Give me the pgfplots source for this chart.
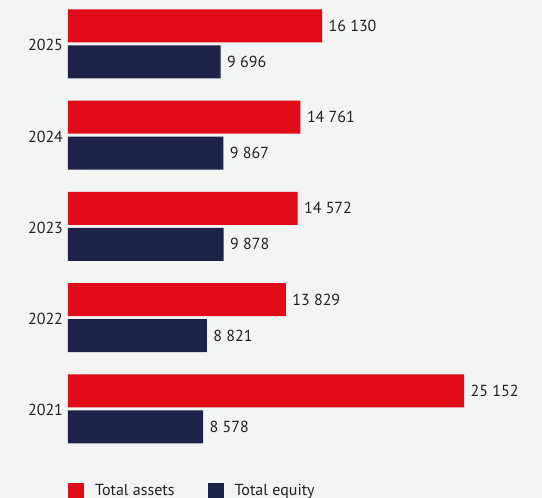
\documentclass[border=0pt]{standalone}
\usepackage{pgfplots}
\pgfplotsset{compat=1.18}
\usepackage{fontspec}
\setmainfont{PT Sans}
\definecolor{bg}{HTML}{F3F4F4}
\definecolor{cred}{HTML}{DF0B16}
\definecolor{cnavy}{HTML}{1E2248}
\definecolor{txt}{HTML}{222222}
\begin{document}
\begin{tikzpicture}[x=1pt,y=1pt]
\fill[bg] (0,0) rectangle (542,498);
\begin{axis}[
  at={(68pt,43.6pt)}, anchor=south west,
  scale only axis, width=472.5pt, height=454.4pt,
  xmin=0, xmax=30000, ymin=-0.5, ymax=4.48,
  xbar, bar width=33pt,
  axis line style={draw=none},
  major tick length=0pt,
  xtick=\empty,
  ytick={0,1,2,3,4},
  yticklabels={2021,2022,2023,2024,2025},
  y tick label style={font=\fontsize{16}{19}\selectfont, text=txt, xshift=-1.5pt, yshift=-1.5pt},
  point meta=x,
  nodes near coords={\pgfmathprintnumber[assume math mode=true,1000 sep={\ }]{\pgfplotspointmeta}},
  every node near coord/.append style={font=\fontsize{16}{19}\selectfont, text=txt, anchor=west, xshift=3pt},
  legend style={at={(0,-0.08)}, anchor=west, draw=none, fill=none, inner sep=0pt,
    font=\fontsize{16}{19}\selectfont, text=txt,
    /tikz/every even column/.style={column sep=31pt}},
  legend columns=2,
  legend image code/.code={\fill[#1] (0pt,-8pt) rectangle (16pt,8pt); \path (25pt,0pt);},
  clip=false,
]
\addplot[fill=cred, draw=none, bar shift=18pt] coordinates {(16130,4) (14761,3) (14572,2) (13829,1) (25152,0)};
\addlegendentry{Total assets}
\addplot[fill=cnavy, draw=none, bar shift=-18pt] coordinates {(9696,4) (9867,3) (9878,2) (8821,1) (8578,0)};
\addlegendentry{Total equity}
\end{axis}
\pgfresetboundingbox
\path[use as bounding box] (0,0) rectangle (542,498);
\end{tikzpicture}
\end{document}
